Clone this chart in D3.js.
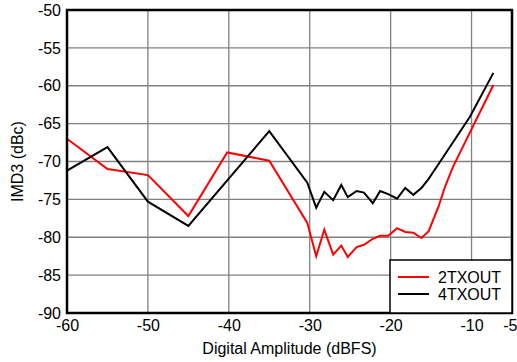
<!DOCTYPE html>
<html><head><meta charset="utf-8">
<script src="https://cdn.jsdelivr.net/npm/d3@7"></script>
<style>body{margin:0;background:#fff}svg{display:block}text{font-family:"Liberation Sans",Arial,sans-serif}</style>
</head><body><svg id="c" width="517" height="362"></svg>
<script>
const xTicks = [-60,-50,-40,-30,-20,-10,-5];
const yTicks = [-90,-85,-80,-75,-70,-65,-60,-55,-50];
const seriesNames = ["2TXOUT","4TXOUT"];
const seriesColors = ["#ff0000","#000000"];
const x2TX = [-60,-55,-50,-45,-40.2,-35,-30.3,-29.2,-28.2,-27.1,-26.1,-25.3,-24.2,-23.3,-22.2,-21.3,-20.3,-19.2,-18.2,-17.2,-16.2,-15.3,-14.1,-13.3,-12.3,-7.3];
const y2TX = [-67,-71,-71.8,-77.2,-68.8,-69.9,-78.1,-82.5,-79.0,-82.3,-81.1,-82.6,-81.3,-81.0,-80.2,-79.8,-79.8,-78.8,-79.3,-79.4,-80.1,-79.2,-76.0,-73.4,-70.7,-59.9];
const x4TX = [-60,-55,-50,-45,-35,-30.3,-29.2,-28.2,-27.1,-26.1,-25.3,-24.2,-23.3,-22.2,-21.3,-20.3,-19.2,-18.2,-17.2,-16.2,-15.3,-14.3,-10.2,-7.3];
const y4TX = [-71.2,-68.1,-75.3,-78.5,-66.0,-72.8,-76.1,-74.0,-75.1,-73.1,-74.7,-73.9,-74.1,-75.5,-73.9,-74.3,-74.9,-73.5,-74.4,-73.5,-72.3,-70.7,-64.1,-58.3];

const svg = d3.select("#c");
const L=67,R=512,T=10,B=313;
const FS=16;
const x = d3.scaleLinear().domain([-60,-5]).range([L,R]);
const y = d3.scaleLinear().domain([-90,-50]).range([B,T]);

// grid
svg.append("g").selectAll("line").data(xTicks).join("line")
  .attr("x1",d=>x(d)).attr("x2",d=>x(d)).attr("y1",T).attr("y2",B)
  .attr("stroke","#808080").attr("stroke-width",1.3);
svg.append("g").selectAll("line").data(yTicks).join("line")
  .attr("x1",L).attr("x2",R).attr("y1",d=>y(d)).attr("y2",d=>y(d))
  .attr("stroke","#808080").attr("stroke-width",1.3);

// axes labels via d3 axes
const fmt = d=>String(d);
const xa = svg.append("g").attr("transform",`translate(0,${B})`)
  .call(d3.axisBottom(x).tickValues(xTicks).tickSize(0).tickPadding(7).tickFormat(fmt));
const ya = svg.append("g").attr("transform",`translate(${L},0)`)
  .call(d3.axisLeft(y).tickValues(yTicks).tickSize(0).tickPadding(6).tickFormat(fmt));
[xa,ya].forEach(a=>{a.select(".domain").remove();a.selectAll("text").attr("font-size",FS).attr("fill","#000").style("font-family","'Liberation Sans',Arial,sans-serif");});
xa.selectAll(".tick").filter(d=>d===-5).select("text").attr("text-anchor","end").attr("x",5);

// lines
const data = [[x2TX,y2TX],[x4TX,y4TX]];
const line = d3.line().x(d=>x(d[0])).y(d=>y(d[1]));
data.forEach((s,i)=>{
  const pts = s[0].map((v,j)=>[v,s[1][j]]);
  svg.append("path").datum(pts).attr("d",line).attr("fill","none")
    .attr("stroke",seriesColors[i]).attr("stroke-width",2).attr("stroke-linejoin","miter");
});

// frame
svg.append("rect").attr("x",L).attr("y",T).attr("width",R-L).attr("height",B-T)
  .attr("fill","none").attr("stroke","#000").attr("stroke-width",2.5);

// legend
const lg = svg.append("g");
lg.append("rect").attr("x",390).attr("y",260).attr("width",R-390).attr("height",B-260)
  .attr("fill","#fff").attr("stroke","#000").attr("stroke-width",1.5);
seriesNames.forEach((n,i)=>{
  const yy = 277 + i*17;
  lg.append("line").attr("x1",398).attr("x2",429).attr("y1",yy).attr("y2",yy)
    .attr("stroke",seriesColors[i]).attr("stroke-width",2);
  lg.append("text").attr("x",438).attr("y",yy+6).attr("font-size",FS).text(n);
});

// axis titles
svg.append("text").attr("x",(L+R)/2).attr("y",354).attr("text-anchor","middle").attr("font-size",FS).text("Digital Amplitude (dBFS)");
svg.append("text").attr("transform",`translate(23,${(T+B)/2}) rotate(-90)`).attr("text-anchor","middle").attr("font-size",FS).text("IMD3 (dBc)");
</script></body></html>
